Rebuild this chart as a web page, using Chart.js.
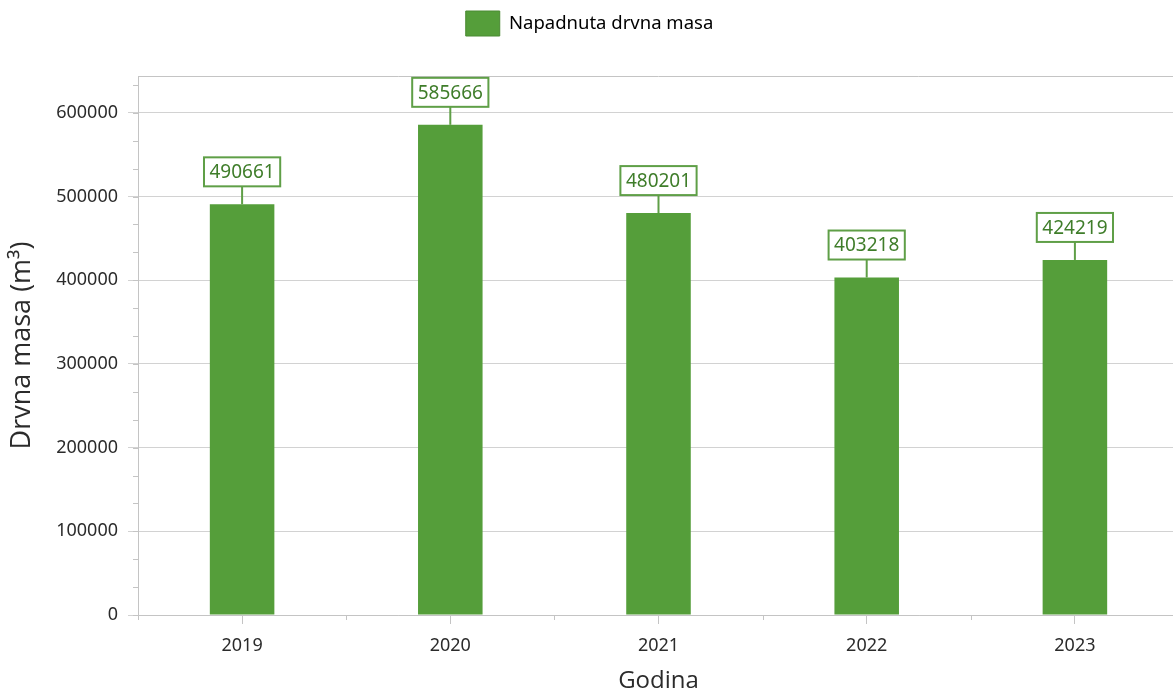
<!DOCTYPE html>
<html>
<head>
<meta charset="utf-8">
<script src="https://cdn.jsdelivr.net/npm/chart.js@4.4.1/dist/chart.umd.min.js"></script>
<style>
  html, body { margin: 0; padding: 0; background: #fff; overflow: hidden; }
  #wrap { width: 1182px; height: 696px; }
</style>
</head>
<body>
<div id="wrap"><canvas id="myChart"></canvas></div>
<script>
// Napadnuta drvna masa po godinama
const years = ["2019", "2020", "2021", "2022", "2023"];
const volumes = [490661, 585666, 480201, 403218, 424219];
const yTickValues = [0, 100000, 200000, 300000, 400000, 500000, 600000];
const yStep = 100000;
const yMax = 644000;

const barColor = "#559e3a";
const labelColor = "#3f7d2a";
const boxColor = "#5f9f47";
const axisColor = "#c4c4c4";
const gridColor = "#d2d2d2";
const textColor = "#2b2b2b";

// value boxes above the bars, with a small stem down to the bar top
const valueLabels = {
  id: "valueLabels",
  afterDatasetsDraw(chart) {
    const ctx = chart.ctx;
    const meta = chart.getDatasetMeta(0);
    ctx.save();
    ctx.font = "19px 'Noto Sans'";
    meta.data.forEach((bar, i) => {
      const text = String(volumes[i]);
      const w = ctx.measureText(text).width + 11;
      const h = 29;
      const stem = 18;
      const bottom = bar.y - stem;
      ctx.strokeStyle = boxColor;
      ctx.lineWidth = 2;
      ctx.beginPath();
      ctx.moveTo(bar.x, bar.y);
      ctx.lineTo(bar.x, bottom);
      ctx.stroke();
      ctx.fillStyle = "#fff";
      ctx.fillRect(bar.x - w / 2, bottom - h, w, h);
      ctx.strokeRect(bar.x - w / 2, bottom - h, w, h);
      ctx.fillStyle = labelColor;
      ctx.textAlign = "center";
      ctx.textBaseline = "middle";
      ctx.fillText(text, bar.x, bottom - h / 2 + 1);
    });
    ctx.restore();
  },
};

// top border and the small in-between ticks on both axes
const axisExtras = {
  id: "axisExtras",
  beforeDatasetsDraw(chart) {
    const ctx = chart.ctx;
    const area = chart.chartArea;
    const x = chart.scales.x;
    const y = chart.scales.y;
    ctx.save();
    ctx.strokeStyle = axisColor;
    ctx.lineWidth = 1;
    ctx.beginPath();
    ctx.moveTo(area.left, area.top + 0.5);
    ctx.lineTo(area.right, area.top + 0.5);
    for (let v = 0; v < yMax; v += yStep / 3) {
      const py = Math.round(y.getPixelForValue(v)) + 0.5;
      ctx.moveTo(area.left - 5, py);
      ctx.lineTo(area.left, py);
    }
    for (let i = 0; i <= years.length; i++) {
      const px = Math.round(x.getPixelForValue(i - 0.5)) + 0.5;
      ctx.moveTo(px, area.bottom);
      ctx.lineTo(px, area.bottom + 5);
    }
    ctx.stroke();
    ctx.restore();
  },
};

new Chart(document.getElementById("myChart"), {
  type: "bar",
  data: {
    labels: years,
    datasets: [
      {
        label: "Napadnuta drvna masa",
        data: volumes,
        backgroundColor: barColor,
        borderWidth: 0,
        barPercentage: 0.31,
        categoryPercentage: 1,
      },
    ],
  },
  options: {
    responsive: true,
    maintainAspectRatio: false,
    animation: false,
    layout: { padding: { top: 6, right: 3, left: 0, bottom: 0 } },
    plugins: {
      tooltip: { enabled: false },
      // empty title used as a spacer between the legend and the plot
      title: {
        display: true,
        text: " ",
        weight: 500,
        font: { size: 10, lineHeight: 1.2 },
        padding: { top: 9, bottom: 9 },
      },
      legend: {
        position: "top",
        labels: {
          boxWidth: 34,
          boxHeight: 25,
          padding: 5,
          color: textColor,
          font: { family: "'Noto Sans'", size: 18.5 },
          generateLabels: () => [
            {
              text: "Napadnuta drvna masa",
              fillStyle: barColor,
              strokeStyle: "#4a8a32",
              lineWidth: 1,
              datasetIndex: 0,
            },
          ],
        },
      },
    },
    scales: {
      x: {
        offset: true,
        border: { color: axisColor, width: 1 },
        grid: {
          offset: false,
          drawOnChartArea: false,
          color: axisColor,
          tickLength: 9,
        },
        ticks: {
          color: textColor,
          padding: 11,
          font: { family: "'Noto Sans'", size: 18 },
        },
        title: {
          display: true,
          text: "Godina",
          color: textColor,
          font: { family: "'Open Sans'", size: 24 },
          padding: { top: 11, bottom: 0 },
        },
        afterFit: (scale) => { scale.height = 81; },
      },
      y: {
        min: 0,
        max: yMax,
        border: { color: axisColor, width: 1 },
        grid: { color: gridColor, tickLength: 10 },
        ticks: {
          color: textColor,
          padding: 10,
          font: { family: "'Noto Sans'", size: 18 },
          callback: (v) => String(v),
        },
        afterBuildTicks: (scale) => {
          scale.ticks = yTickValues.map((v) => ({ value: v }));
        },
        title: {
          display: true,
          text: "Drvna masa (m³)",
          color: textColor,
          font: { family: "'Open Sans'", size: 27 },
          padding: { top: 6, bottom: 0 },
        },
        afterFit: (scale) => { scale.width = 138; },
      },
    },
  },
  plugins: [axisExtras, valueLabels],
});
</script>
</body>
</html>
